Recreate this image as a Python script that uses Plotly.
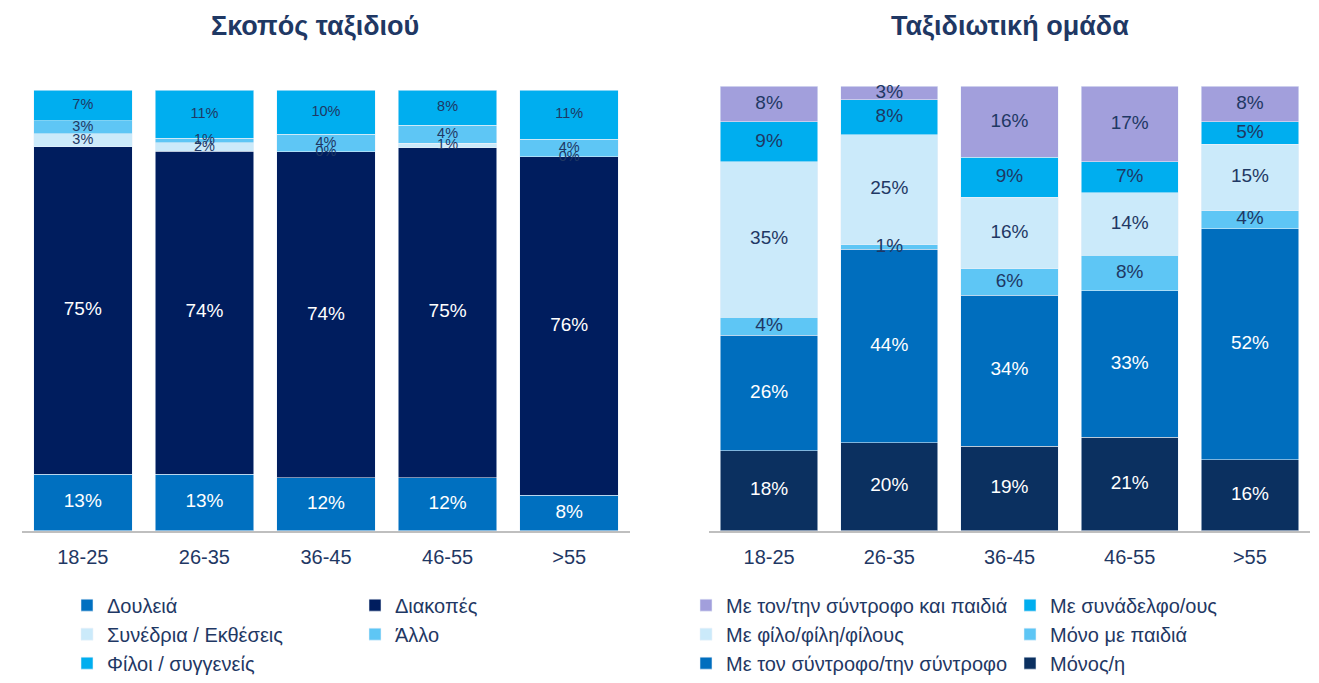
import plotly.graph_objects as go

# ---- data ----
ages = ["18-25", "26-35", "36-45", "46-55", ">55"]

# Σκοπός ταξιδιού (stack order bottom -> top)
purpose_names = ["Δουλειά", "Διακοπές", "Συνέδρια / Εκθέσεις", "Άλλο", "Φίλοι / συγγενείς"]
work = [13, 13, 12, 12, 8]
holidays = [75, 74, 74, 75, 76]
conferences = [3, 2, 0, 1, 0]
other = [3, 1, 4, 4, 4]
friends_relatives = [7, 11, 10, 8, 11]

# Ταξιδιωτική ομάδα (stack order bottom -> top)
group_names = ["Μόνος/η", "Με τον σύντροφο/την σύντροφο", "Μόνο με παιδιά",
               "Με φίλο/φίλη/φίλους", "Με συνάδελφο/ους", "Με τον/την σύντροφο και παιδιά"]
alone = [18, 20, 19, 21, 16]
partner = [26, 44, 34, 33, 52]
kids_only = [4, 1, 6, 8, 4]
with_friends = [35, 25, 16, 14, 15]
colleagues = [9, 8, 9, 7, 5]
partner_kids = [8, 3, 16, 17, 8]

# ---- styling ----
NAVY_TEXT = "#1F3864"
FONT = "Liberation Sans, Arial, sans-serif"

purpose_series = [work, holidays, conferences, other, friends_relatives]
purpose_colors = ["#0070C0", "#001D5E", "#CBEAFA", "#5EC6F5", "#00AEEF"]
purpose_white = [True, True, False, False, False]
# legend placement: (legend id, rank)
purpose_legend = [("legend", 1), ("legend2", 1), ("legend", 2), ("legend2", 2), ("legend", 3)]

group_series = [alone, partner, kids_only, with_friends, colleagues, partner_kids]
group_colors = ["#0B3060", "#006EBE", "#5EC6F5", "#CBEAFA", "#00AEEF", "#A29FDC"]
group_white = [True, True, False, False, False, False]
group_legend = [("legend4", 3), ("legend3", 3), ("legend4", 2), ("legend3", 2), ("legend4", 1), ("legend3", 1)]

fig = go.Figure()


def add_stack(names, series, colors, white, legends, xaxis, yaxis, big, small):
    totals = [sum(vals) for vals in zip(*series)]
    lx, ly, lt, lc, ls = [], [], [], [], []
    cum = [0.0] * len(ages)
    for name, vals, col, wt, (leg, rank) in zip(names, series, colors, white, legends):
        fig.add_trace(go.Bar(
            x=ages, y=vals, name=name, marker_color=col,
            marker_line=dict(width=0.6, color="rgba(235,242,250,0.9)"),
            xaxis=xaxis, yaxis=yaxis, legend=leg, legendrank=rank,
            legendgroup=name, hoverinfo="skip",
        ))
        for i, v in enumerate(vals):
            mid = (cum[i] + v / 2) / totals[i] * 100
            cum[i] += v
            lx.append(ages[i])
            ly.append(mid)
            lt.append(f"{v}%")
            lc.append("white" if wt else NAVY_TEXT)
            ls.append(big if wt else small)
    fig.add_trace(go.Scatter(
        x=lx, y=ly, text=lt, mode="text", textposition="middle center",
        textfont=dict(family=FONT, size=ls, color=lc),
        xaxis=xaxis, yaxis=yaxis, showlegend=False, hoverinfo="skip", cliponaxis=False,
    ))


add_stack(purpose_names, purpose_series, purpose_colors, purpose_white, purpose_legend,
          "x", "y", 19, 14.5)
add_stack(group_names, group_series, group_colors, group_white, group_legend,
          "x2", "y2", 19, 19)

W, H = 1319, 683


def px_x(p):
    return p / W


def px_y(p):
    return (H - p) / H


axis_x = dict(type="category", showline=True, linecolor="#BFBFBF", linewidth=2,
              ticks="", showgrid=False, zeroline=False, ticklabelstandoff=7,
              tickfont=dict(family=FONT, size=20, color=NAVY_TEXT))
axis_y = dict(range=[0, 100], showticklabels=False, showgrid=False, zeroline=False,
              showline=False, ticks="")

legend_common = dict(
    orientation="v", xanchor="left", yanchor="top", traceorder="grouped",
    tracegroupgap=0, bgcolor="rgba(0,0,0,0)",
    font=dict(family=FONT, size=20, color=NAVY_TEXT),
)

TITLE_FONT = dict(family="Liberation Sans, Arial, sans-serif", size=27, color=NAVY_TEXT)

fig.update_layout(
    width=W, height=H,
    margin=dict(l=0, r=0, t=0, b=0),
    paper_bgcolor="white", plot_bgcolor="white",
    barmode="stack", barnorm="percent", bargap=0.19,
    showlegend=True,
    xaxis=dict(axis_x, domain=[px_x(22), px_x(630)], anchor="y"),
    yaxis=dict(axis_y, domain=[px_y(541), px_y(92)], anchor="x"),
    xaxis2=dict(axis_x, domain=[px_x(709), px_x(1310)], anchor="y2"),
    yaxis2=dict(axis_y, domain=[px_y(541), px_y(88)], anchor="x2"),
    legend=dict(legend_common, x=px_x(67), y=px_y(597)),
    legend2=dict(legend_common, x=px_x(355), y=px_y(597)),
    legend3=dict(legend_common, x=px_x(686), y=px_y(597)),
    legend4=dict(legend_common, x=px_x(1010), y=px_y(597)),
    annotations=[
        dict(text="<b>Σκοπός ταξιδιού</b>", x=px_x(315), y=px_y(27), xref="paper", yref="paper",
             showarrow=False, xanchor="center", yanchor="middle", font=TITLE_FONT),
        dict(text="<b>Ταξιδιωτική ομάδα</b>", x=px_x(1010), y=px_y(27), xref="paper", yref="paper",
             showarrow=False, xanchor="center", yanchor="middle", font=TITLE_FONT),
    ],
)

fig.write_html("out.html")
